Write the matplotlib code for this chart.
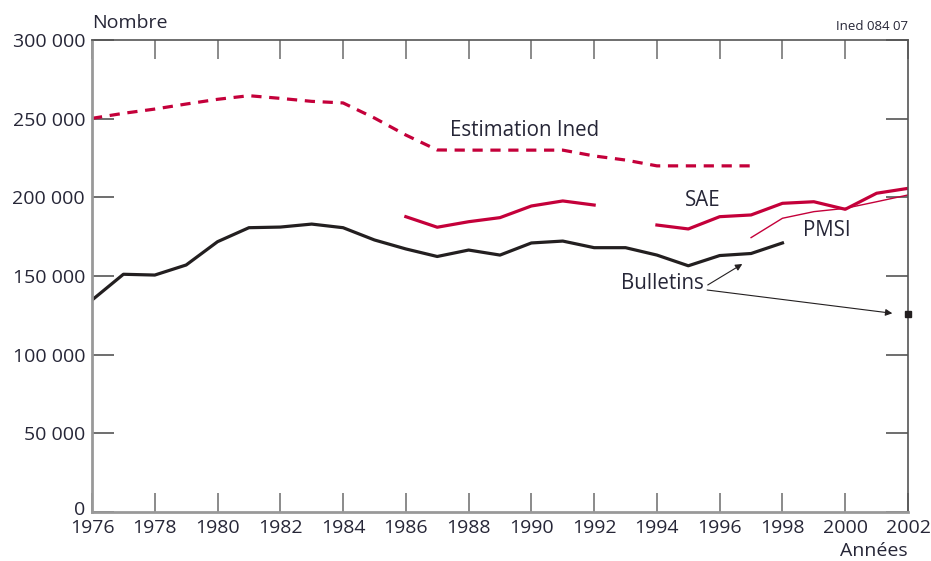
import matplotlib
matplotlib.use('Agg')
import matplotlib.pyplot as plt
from matplotlib.transforms import ScaledTranslation

plt.rcParams['font.family'] = ['Open Sans', 'DejaVu Sans']

# Bulletins (black)
bull_years = list(range(1976, 1999))
bull_vals = [134700, 151100, 150600, 157000, 171800, 180700, 181100, 183000,
             180700, 172900, 167200, 162400, 166500, 163300, 171000, 172200,
             168000, 168000, 163300, 156500, 163000, 164300, 171000]
bull_2002 = 125800

# SAE (red, two pieces)
sae1_years = list(range(1986, 1993))
sae1_vals = [187700, 181000, 184500, 187100, 194500, 197700, 195100]
sae2_years = list(range(1994, 2003))
sae2_vals = [182400, 179900, 187700, 188800, 196200, 197200, 192400, 202600, 205700]

# PMSI (thin red)
pmsi_years = list(range(1997, 2003))
pmsi_vals = [174400, 186700, 190900, 193000, 197200, 201500]

# Estimation Ined (dashed red)
est_years = list(range(1976, 1998))
est_vals = [250200, 253400, 256100, 259300, 262300, 264600, 262900, 261000,
            260000, 250400, 239600, 230100, 230000, 230000, 230000, 230000,
            226300, 223700, 220000, 220000, 220000, 220000]

x_ticks = list(range(1976, 2003, 2))
y_ticks = [0, 50000, 100000, 150000, 200000, 250000, 300000]
y_labels = ['0', '50 000', '100 000', '150 000', '200 000', '250 000', '300 000']

red = '#C4003A'
black = '#231F20'
txt = '#262637'

fig = plt.figure(figsize=(9.31, 5.61), dpi=100)
ax = fig.add_axes([92 / 931, 1 - 512 / 561, 816 / 931, 472 / 561])

ax.plot(est_years, est_vals, color=red, lw=2.3, dashes=(3.2, 2.4))
ax.plot(sae1_years, sae1_vals, color=red, lw=2.3)
ax.plot(sae2_years, sae2_vals, color=red, lw=2.3)
ax.plot(pmsi_years, pmsi_vals, color=red, lw=1.0)
ax.plot(bull_years, bull_vals, color=black, lw=2.3)
ax.plot([2002], [bull_2002], marker='s', ms=5, color=black, clip_on=False, zorder=5)

ax.set_xlim(1976, 2002)
ax.set_ylim(0, 300000)
ax.set_xticks(x_ticks)
ax.set_yticks(y_ticks)
ax.set_yticklabels(y_labels)

ax.tick_params(axis='x', direction='in', length=14, width=1.2, color='#777777',
               top=True, labelsize=14, labelcolor=txt, pad=5)
ax.tick_params(axis='y', direction='in', length=16, width=1.2, color='#555555',
               right=True, labelsize=14, labelcolor=txt, pad=5)
# lift the "0" a few points so it does not run into "1976"
zero = ax.get_yticklabels()[0]
zero.set_transform(zero.get_transform() + ScaledTranslation(0, 3 / 72, fig.dpi_scale_trans))

for side in ['left', 'bottom']:
    ax.spines[side].set_color('#999999')
    ax.spines[side].set_linewidth(2)
for side in ['top', 'right']:
    ax.spines[side].set_color('#555555')
    ax.spines[side].set_linewidth(1.2)

ax.text(1987.4, 242200, 'Estimation Ined', fontsize=14.8, color=txt, va='center')
ax.text(1994.9, 198300, 'SAE', fontsize=14.8, color=txt, va='center')
ax.text(1998.65, 179200, 'PMSI', fontsize=14.8, color=txt, va='center')
ax.text(1995.5, 145500, 'Bulletins', fontsize=14.8, color=txt, va='center', ha='right')

ax.annotate('', xy=(1996.72, 157600), xytext=(1995.62, 144300),
            arrowprops=dict(arrowstyle='-|>', color=black, lw=0.8,
                            mutation_scale=10, shrinkA=0, shrinkB=0))
ax.annotate('', xy=(2001.5, 126300), xytext=(1995.6, 141100),
            arrowprops=dict(arrowstyle='-|>', color=black, lw=0.8,
                            mutation_scale=10, shrinkA=0, shrinkB=0))

fig.text(92 / 931, 1 - 23 / 561, 'Nombre', fontsize=14, color=txt, va='center', ha='left')
fig.text(908 / 931, 1 - 27 / 561, 'Ined 084 07', fontsize=9.5, color=txt, va='center', ha='right')
fig.text(908 / 931, 1 - 551 / 561, 'Années', fontsize=14, color=txt, va='center', ha='right')

fig.savefig('out.png', dpi=100)
